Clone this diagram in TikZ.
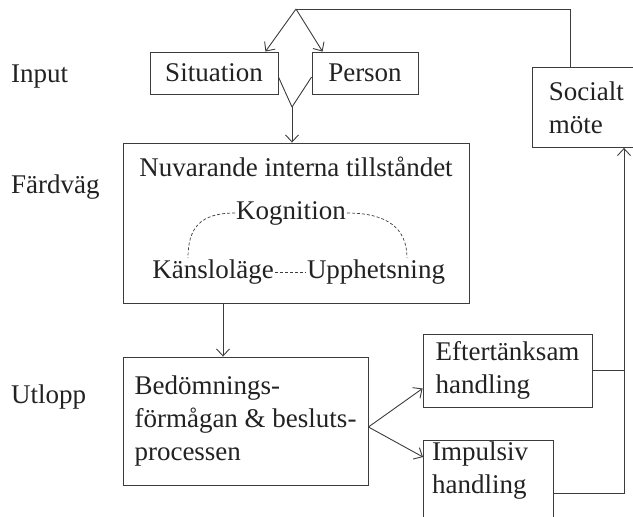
\documentclass[tikz,border=0pt]{standalone}
\usepackage{fontspec}
\setmainfont{Liberation Serif}
\usetikzlibrary{arrows.meta,positioning,calc}
\definecolor{LineGray}{HTML}{3C3C3C}
\definecolor{TextGray}{HTML}{222222}
\hyphenpenalty=10000
\tikzset{
  box/.style={draw=LineGray,line width=0.9pt,inner sep=0pt,align=left,
              font=\fontsize{27}{33}\selectfont,text=TextGray},
  txt/.style={inner sep=1pt,align=left,font=\fontsize{27}{33}\selectfont,text=TextGray},
  link/.style={draw=LineGray,line width=0.9pt},
  flow/.style={-{Straight Barb[length=7pt,width=13pt]},draw=LineGray,line width=0.9pt},
  dashlink/.style={draw=LineGray,line width=0.7pt,dash pattern=on 3pt off 2pt}
}

\begin{document}
\begin{tikzpicture}[x=1pt,y=-1pt]
  \useasboundingbox (0,0) rectangle (633,517);
  \clip (0,0) rectangle (633,517);

  % row labels
  \node[txt,anchor=west] (lInput) at (10,77) {Input};
  \node[txt,anchor=west] (lFard) at (10,187) {Färdväg};
  \node[txt,anchor=west] (lUtl) at (10,397) {Utlopp};

  % input boxes
  \node[box,minimum width=128,minimum height=42,align=center] (sit) at (214,73) {Situation};
  \node[box,minimum width=106,minimum height=42,align=center] (pers) at (365,73) {Person};

  % internal state
  \node[box,minimum width=346,minimum height=160] (state) at (296,223) {};
  \node[txt] (title) at (296,167) {Nuvarande interna tillståndet};
  \node[txt] (kog) at (291,213) {Kognition};
  \node[txt] (kans) at (213,272) {Känsloläge};
  \node[txt] (upph) at (376,272) {Upphetsning};
  \coordinate (kL) at (188,258);
  \coordinate (kR) at (407,258);

  % outlet
  \node[box,minimum width=245,minimum height=128] (bed) at (245.5,421)
    {Bedömnings-\\förmågan \& besluts-\\processen};
  \node[box,minimum width=169,minimum height=73] (efter) at (507.5,370.5)
    {Eftertänksam\\handling};
  \node[box,minimum width=130,minimum height=110,anchor=north west] (impbox) at (423,440) {};
  \node[txt,anchor=north west] (impuls) at (431,441) {Impulsiv\\handling};
  \node[box,minimum width=113,minimum height=80,anchor=north west,text width=80] (soc) at (532,67)
    {Socialt\\möte};

  % helper points
  \coordinate (top) at (296,9);
  \coordinate (turn) at (570,9);
  \coordinate (vee) at (292,107);
  \coordinate (drop) at (223,0);
  \coordinate (ret) at (624,493);

  % connectors
  \draw[link] (top) -- (turn) -- (turn |- soc.north);
  \draw[flow] (top) -- ([xshift=-13pt]sit.north east);
  \draw[flow] (top) -- ([xshift=11pt]pers.north west);
  \draw[link] ([yshift=-4pt]sit.east) -- (vee);
  \draw[link] ([yshift=-4pt]pers.west) -- (vee);
  \draw[flow] (vee) -- (vee |- state.north);

  \draw[dashlink] (kans.east) -- (upph.west);
  \draw[dashlink] (kog.west) .. controls +(-35,0) and +(0,-30) .. (kL);
  \draw[dashlink] (kog.east) .. controls +(40,0) and +(0,-30) .. (kR);

  \draw[flow] (state.south -| drop) -- (bed.north -| drop);
  \draw[flow] ([yshift=-6pt]bed.east) -- ([yshift=-18pt]efter.west);
  \draw[flow] ([yshift=-6pt]bed.east) -- ([yshift=-17pt]impbox.north west);
  \draw[link] (efter.east) -- (efter.east -| ret);
  \draw[flow] ([yshift=-53pt]impbox.north east) -- (ret) -- (ret |- soc.south);
\end{tikzpicture}
\end{document}
